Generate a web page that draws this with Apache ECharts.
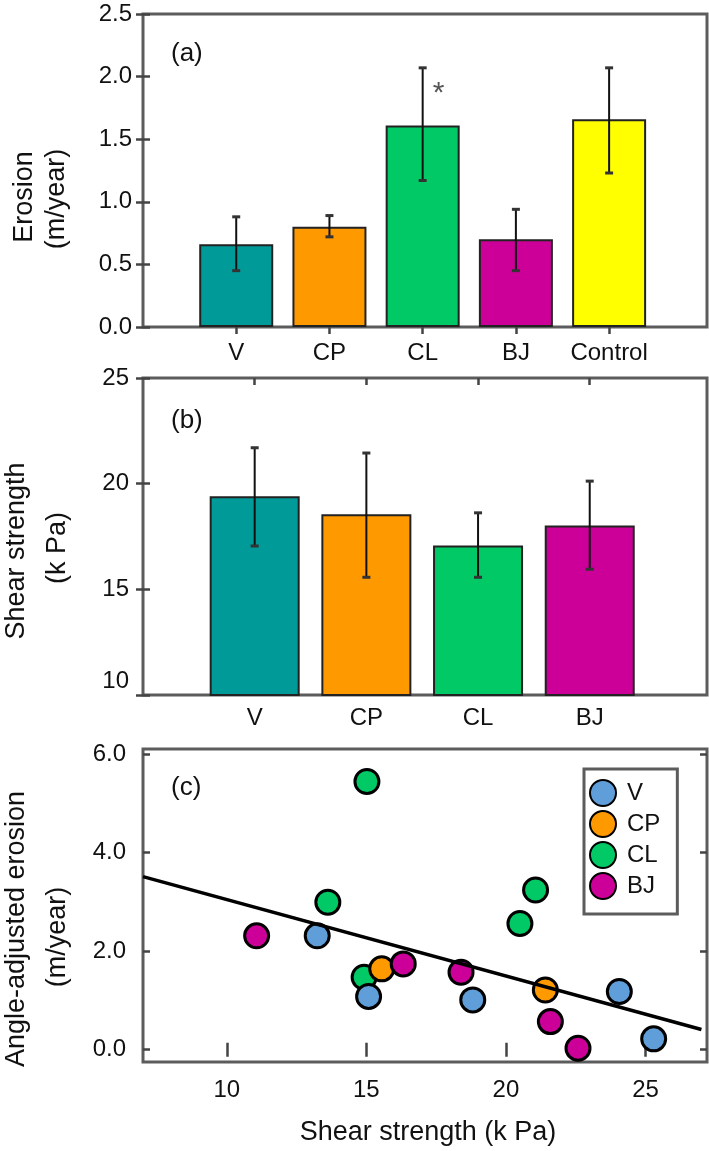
<!DOCTYPE html>
<html>
<head>
<meta charset="utf-8">
<script src="https://cdn.jsdelivr.net/npm/echarts@6/dist/echarts.min.js"></script>
<style>
html,body{margin:0;padding:0;background:#fff;}
#chart{width:709px;height:1151px;}
</style>
</head>
<body>
<div id="chart"></div>
<script>
// ---- Panel (a): erosion ----
const catsA = ['V', 'CP', 'CL', 'BJ', 'Control'];
const erosionMean = [0.66, 0.80, 1.61, 0.70, 1.66];
const erosionLow  = [0.45, 0.72, 1.17, 0.45, 1.23];
const erosionHigh = [0.88, 0.89, 2.07, 0.94, 2.07];
const erosionSig  = ['', '', '*', '', ''];
const erosionTicks = [0, 0.5, 1.0, 1.5, 2.0, 2.5];

// ---- Panel (b): shear strength ----
const catsB = ['V', 'CP', 'CL', 'BJ'];
const shearMean = [19.40, 18.55, 17.08, 18.02];
const shearLow  = [17.05, 15.57, 15.57, 15.95];
const shearHigh = [21.70, 21.45, 18.62, 20.12];
const shearTicks = [10, 15, 20, 25];

// ---- Panel (c): scatter ----
const vShear  = [13.24, 15.08, 18.81, 24.06, 25.29];
const vEro    = [2.31, 1.08, 1.01, 1.18, 0.22];
const cpShear = [15.55, 21.41];
const cpEro   = [1.64, 1.21];
const clShear = [13.62, 14.92, 15.02, 20.50, 21.06];
const clEro   = [2.99, 1.47, 5.44, 2.56, 3.24];
const bjShear = [11.07, 16.32, 18.39, 21.59, 22.58];
const bjEro   = [2.31, 1.74, 1.57, 0.57, 0.03];
const fitX = [7, 27];
const fitY = [3.51, 0.41];
const cTicksX = [10, 15, 20, 25];
const cTicksY = [0, 2, 4, 6];

// ---- styles ----
const barColorsA = ['#009a99', '#ff9900', '#00c966', '#cc0099', '#ffff00'];
const barColorsB = ['#009a99', '#ff9900', '#00c966', '#cc0099'];
const dotColors = {V: '#5f9ed8', CP: '#ff9900', CL: '#00c966', BJ: '#cc0099'};
const FONT = "'Liberation Sans', Arial, sans-serif";
const frameColor = '#5c5c5c';
const tickStyle = {show: true, inside: true, length: 7, lineStyle: {color: '#444', width: 2.5}};
const labelStyle = {fontFamily: FONT, fontSize: 24, color: '#111'};

const chart = echarts.init(document.getElementById('chart'), null, {renderer: 'canvas'});

function errRender(params, api) {
  const x = api.value(0), lo = api.value(1), hi = api.value(2);
  const pLo = api.coord([x, lo]), pHi = api.coord([x, hi]);
  const cw = 4;
  return {
    type: 'group',
    children: [
      {type: 'line', shape: {x1: pLo[0], y1: pLo[1], x2: pHi[0], y2: pHi[1]}, style: {stroke: '#111', lineWidth: 2}},
      {type: 'line', shape: {x1: pHi[0] - cw, y1: pHi[1], x2: pHi[0] + cw, y2: pHi[1]}, style: {stroke: '#333', lineWidth: 3}},
      {type: 'line', shape: {x1: pLo[0] - cw, y1: pLo[1], x2: pLo[0] + cw, y2: pLo[1]}, style: {stroke: '#333', lineWidth: 3}}
    ]
  };
}

function sigRender(params, api) {
  const i = params.dataIndex;
  const txt = erosionSig[i];
  if (!txt) return null;
  const p = api.coord([api.value(0), api.value(1)]);
  return {type: 'text', x: p[0] + 16, y: p[1] + 11,
    style: {text: txt, fontSize: 30, fontFamily: FONT, fill: '#555', align: 'center', verticalAlign: 'top'}};
}

const grids = [
  {left: 143, right: 2, top: 14, height: 313},
  {left: 143, right: 2, top: 378, height: 317},
  {left: 143, right: 2, top: 749, height: 313}
].map(g => Object.assign(g, {show: true, borderColor: frameColor, borderWidth: 3, backgroundColor: '#fff'}));

function xPair(gi, min, max, ticks, fmt, labelMargin) {
  return [
    {type: 'value', gridIndex: gi, position: 'bottom', min: min, max: max,
      axisLine: {show: false}, splitLine: {show: false},
      axisTick: Object.assign({customValues: ticks}, tickStyle),
      axisLabel: Object.assign({customValues: ticks, formatter: fmt, margin: labelMargin}, labelStyle)},
    {type: 'value', gridIndex: gi, position: 'top', min: min, max: max,
      axisLine: {show: false}, splitLine: {show: false},
      axisTick: Object.assign({customValues: ticks}, tickStyle),
      axisLabel: {show: false}}
  ];
}
function yPair(gi, min, max, ticks, fmt, labelMargin, rich) {
  const lab = Object.assign({customValues: ticks, formatter: fmt, margin: labelMargin}, labelStyle);
  if (rich) lab.rich = rich;
  return [
    {type: 'value', gridIndex: gi, position: 'left', min: min, max: max,
      axisLine: {show: false}, splitLine: {show: false},
      axisTick: Object.assign({customValues: ticks}, tickStyle),
      axisLabel: lab},
    {type: 'value', gridIndex: gi, position: 'right', min: min, max: max,
      axisLine: {show: false}, splitLine: {show: false},
      axisTick: Object.assign({customValues: ticks}, tickStyle),
      axisLabel: {show: false}}
  ];
}

const xAxes = [].concat(
  xPair(0, 0, 6.05, [1, 2, 3, 4, 5], v => catsA[Math.round(v) - 1] || '', 14),
  xPair(1, 0, 5.05, [1, 2, 3, 4], v => catsB[Math.round(v) - 1] || '', 11),
  xPair(2, 7, 27.2, cTicksX, v => String(v), 16)
);
const yAxes = [].concat(
  yPair(0, 0, 2.5, erosionTicks, v => v.toFixed(1), 11),
  yPair(1, 10, 25, shearTicks, v => (v === shearTicks[0] ? '{lift|' + v + '}' : String(v)), 14,
    {lift: {fontFamily: FONT, fontSize: 24, color: '#111', padding: [0, 0, 28, 0]}}),
  yPair(2, -0.25, 6.1, cTicksY, v => v.toFixed(1), 17)
);

function dots(name, xs, ys, z) {
  return {
    name: name, type: 'scatter', xAxisIndex: 4, yAxisIndex: 4, z: z,
    symbol: 'circle', symbolSize: 24,
    itemStyle: {color: dotColors[name], borderColor: '#000', borderWidth: 3, opacity: 1},
    data: xs.map((x, i) => [x, ys[i]])
  };
}

const series = [
  {type: 'bar', xAxisIndex: 0, yAxisIndex: 0, barWidth: 74,
    itemStyle: {borderColor: '#222', borderWidth: 2},
    data: erosionMean.map((v, i) => ({value: [i + 1, v], itemStyle: {color: barColorsA[i]}}))},
  {type: 'custom', xAxisIndex: 0, yAxisIndex: 0, renderItem: errRender, z: 5,
    data: erosionMean.map((v, i) => [i + 1, erosionLow[i], erosionHigh[i]])},
  {type: 'custom', xAxisIndex: 0, yAxisIndex: 0, renderItem: sigRender, z: 5,
    data: erosionMean.map((v, i) => [i + 1, erosionHigh[i]])},
  {type: 'bar', xAxisIndex: 2, yAxisIndex: 2, barWidth: 90,
    itemStyle: {borderColor: '#222', borderWidth: 2},
    data: shearMean.map((v, i) => ({value: [i + 1, v], itemStyle: {color: barColorsB[i]}}))},
  {type: 'custom', xAxisIndex: 2, yAxisIndex: 2, renderItem: errRender, z: 5,
    data: shearMean.map((v, i) => [i + 1, shearLow[i], shearHigh[i]])},
  dots('V', vShear, vEro, 6),
  dots('CP', cpShear, cpEro, 4),
  dots('CL', clShear, clEro, 3),
  dots('BJ', bjShear, bjEro, 5),
  {type: 'line', xAxisIndex: 4, yAxisIndex: 4, z: 8, symbol: 'none', silent: true,
    lineStyle: {color: '#000', width: 3.5},
    data: fitX.map((x, i) => [x, fitY[i]])}
];

function rotText(txt, x, y, size) {
  return {type: 'text', x: x, y: y, rotation: Math.PI / 2,
    style: {text: txt, fontSize: size, fontFamily: FONT, fill: '#111', align: 'center', verticalAlign: 'middle'}};
}
function plainText(txt, x, y, size) {
  return {type: 'text', x: x, y: y,
    style: {text: txt, fontSize: size, fontFamily: FONT, fill: '#111', align: 'left', verticalAlign: 'middle'}, z: 20};
}

chart.setOption({
  animation: false,
  backgroundColor: '#fff',
  grid: grids,
  xAxis: xAxes,
  yAxis: yAxes,
  legend: {
    data: ['V', 'CP', 'CL', 'BJ'],
    orient: 'vertical', left: 584, top: 769,
    itemWidth: 26, itemHeight: 26, itemGap: 3,
    padding: [10, 17, 14, 5],
    backgroundColor: '#fff', borderColor: '#5c5c5c', borderWidth: 3,
    textStyle: {fontFamily: FONT, fontSize: 24, color: '#111', padding: [0, 0, 0, 6]},
    selectedMode: false
  },
  graphic: [
    rotText('Erosion', 25, 197, 27),
    rotText('(m/year)', 57, 199, 27),
    rotText('Shear strength', 17, 551, 27),
    rotText('(k Pa)', 58, 548, 27),
    rotText('Angle-adjusted erosion', 17, 929, 27),
    rotText('(m/year)', 58, 937, 27),
    {type: 'text', x: 428, y: 1133,
      style: {text: 'Shear strength (k Pa)', fontSize: 27, fontFamily: FONT, fill: '#111', align: 'center', verticalAlign: 'middle'}},
    plainText('(a)', 171, 54, 26),
    plainText('(b)', 171, 421, 26),
    plainText('(c)', 171, 788, 26)
  ],
  series: series
});
</script>
</body>
</html>
